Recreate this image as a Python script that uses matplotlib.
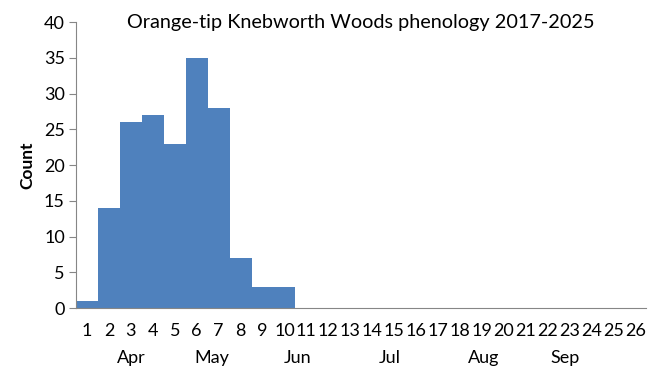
import matplotlib
matplotlib.use("Agg")
import matplotlib.pyplot as plt
import numpy as np

# weekly counts (week 1 = start of April)
weeks = list(range(1, 27))
counts = [1, 14, 26, 27, 23, 35, 28, 7, 3, 3, 0, 0, 0, 0, 0, 0, 0, 0, 0, 0, 0, 0, 0, 0, 0, 0]
months = ["Apr", "May", "Jun", "Jul", "Aug", "Sep"]
month_pos = [3.0, 6.7, 10.6, 14.8, 19.1, 22.8]

plt.rcParams['font.family'] = ['Lato', 'DejaVu Sans']

fig = plt.figure(figsize=(6.58, 3.73), dpi=100)
ax = fig.add_axes([0.1155, 0.174, 0.867, 0.767])

ax.bar(weeks, counts, width=1.0, color='#4F81BD', linewidth=0)

ax.set_xlim(0.5, 26.5)
ax.set_ylim(0, 40)
ax.set_yticks(range(0, 41, 5))
ax.set_xticks(weeks)
ax.set_xticklabels([str(w) for w in weeks])
ax.tick_params(axis='x', length=0, labelsize=13, pad=11)
ax.tick_params(axis='y', length=5, color='#868686', labelsize=13, pad=3)

for s in ['top', 'right']:
    ax.spines[s].set_visible(False)
for s in ['left', 'bottom']:
    ax.spines[s].set_color('#868686')

for m, p in zip(months, month_pos):
    ax.text(p, -0.175, m, transform=ax.get_xaxis_transform(), ha='center', va='center', fontsize=13)

ax.set_ylabel('Count', fontsize=12.5, fontweight='bold', labelpad=6)
ax.text(0.5, 1.0, 'Orange-tip Knebworth Woods phenology 2017-2025', transform=ax.transAxes,
        ha='center', va='center', fontsize=14.3)

fig.savefig('out.png', dpi=100)
